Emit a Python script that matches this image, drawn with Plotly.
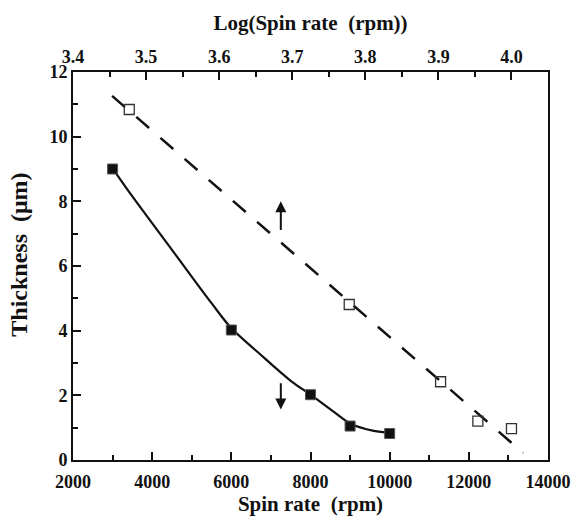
import plotly.graph_objects as go

# bottom axis series: spin rate (rpm) vs thickness (um), filled squares
spin_rate = [3000, 6000, 8000, 9000, 10000]
thickness = [9.0, 4.02, 2.02, 1.05, 0.82]

# smooth guide curve through the filled squares
curve_rate = [3000, 3500, 4500, 5500, 6000, 6700, 7500, 8000, 8600, 9000, 9600, 10000]
curve_thickness = [9.02, 8.15, 6.5, 4.85, 4.08, 3.3, 2.45, 2.02, 1.48, 1.13, 0.9, 0.84]

# top axis series: log(spin rate) vs thickness, open squares
log_spin_rate = [3.477, 3.778, 3.903, 3.954, 4.0]
thickness_log = [10.84, 4.81, 2.42, 1.2, 0.97]

# dashed linear fit on the log axis (end points)
fit_log_rate = [3.4535, 4.016]
fit_thickness = [11.26, 0.22]

# arrows: (spin rate, tail, tip)
arrow_up = (7250, 7.07, 8.0)
arrow_down = (7250, 2.42, 1.56)

FONT = "Liberation Serif"
INK = "#111111"

fig = go.Figure()

fig.add_trace(go.Scatter(
    x=curve_rate, y=curve_thickness, mode="lines",
    line=dict(color=INK, width=2.2, shape="spline", smoothing=1.0),
    xaxis="x", yaxis="y", showlegend=False,
))
fig.add_trace(go.Scatter(
    x=spin_rate, y=thickness, mode="markers",
    marker=dict(symbol="square", size=10, color=INK,
                line=dict(color="#555555", width=1)),
    xaxis="x", yaxis="y", showlegend=False,
))
fig.add_trace(go.Scatter(
    x=fit_log_rate, y=fit_thickness, mode="lines",
    line=dict(color=INK, width=2.5, dash="17px,15px"),
    xaxis="x2", yaxis="y", showlegend=False,
))
fig.add_trace(go.Scatter(
    x=log_spin_rate, y=thickness_log, mode="markers",
    marker=dict(symbol="square-open", size=10, color="#333333",
                line=dict(width=1.3)),
    xaxis="x2", yaxis="y", showlegend=False,
))

for x, tail, tip in (arrow_up, arrow_down):
    fig.add_annotation(
        x=x, y=tip, ax=x, ay=tail, xref="x", yref="y", axref="x", ayref="y",
        showarrow=True, arrowhead=2, arrowsize=1.1, arrowwidth=2,
        arrowcolor=INK, text="",
    )

# y title as an annotation: sits a bit above the axis middle in the original
fig.add_annotation(
    text="<b>Thickness\u00a0\u00a0(\u03bcm)</b>", textangle=-90,
    xref="paper", yref="paper", x=-0.113, y=0.53,
    xanchor="center", yanchor="middle", showarrow=False,
    font=dict(family=FONT, size=24, color=INK),
)

tickfont = dict(family=FONT, size=18, color=INK)
titlefont = dict(family=FONT, size=21, color=INK)
common = dict(
    showline=True, linecolor=INK, linewidth=2, ticks="inside",
    tickcolor=INK, tickwidth=2, ticklen=8, showgrid=False, zeroline=False,
    tickfont=tickfont, tickprefix="<b>", ticksuffix="</b>",
)

fig.update_layout(
    width=583, height=524,
    margin=dict(l=73, r=24, t=72, b=60),
    paper_bgcolor="white", plot_bgcolor="white",
    font=dict(family=FONT, color=INK),
    xaxis=dict(
        **common, range=[2000, 14000], tick0=2000, dtick=2000, tickformat="d",
        ticklabelstandoff=4,
        minor=dict(dtick=1000, ticks="inside", ticklen=5, tickcolor=INK, tickwidth=2),
        title=dict(text="<b>Spin rate\u00a0\u00a0(rpm)</b>", font=titlefont, standoff=6),
    ),
    xaxis2=dict(
        **common, range=[3.4, 4.05], tick0=3.4, dtick=0.1, tickformat=".1f",
        overlaying="x", side="top", anchor="y",
        minor=dict(dtick=0.05, ticks="inside", ticklen=5, tickcolor=INK, tickwidth=2),
        title=dict(text="<b>Log(Spin rate\u00a0\u00a0(rpm))</b>", font=titlefont, standoff=10),
    ),
    yaxis=dict(
        **common, range=[0, 12], tick0=0, dtick=2, mirror=True,
        minor=dict(dtick=1, ticks="inside", ticklen=5, tickcolor=INK, tickwidth=2),
    ),
)

# drop the default 8px body margin so the figure fills the window
fig.write_html(
    "out.html",
    config={"displayModeBar": False},
    post_script="document.body.style.margin='0';",
)
